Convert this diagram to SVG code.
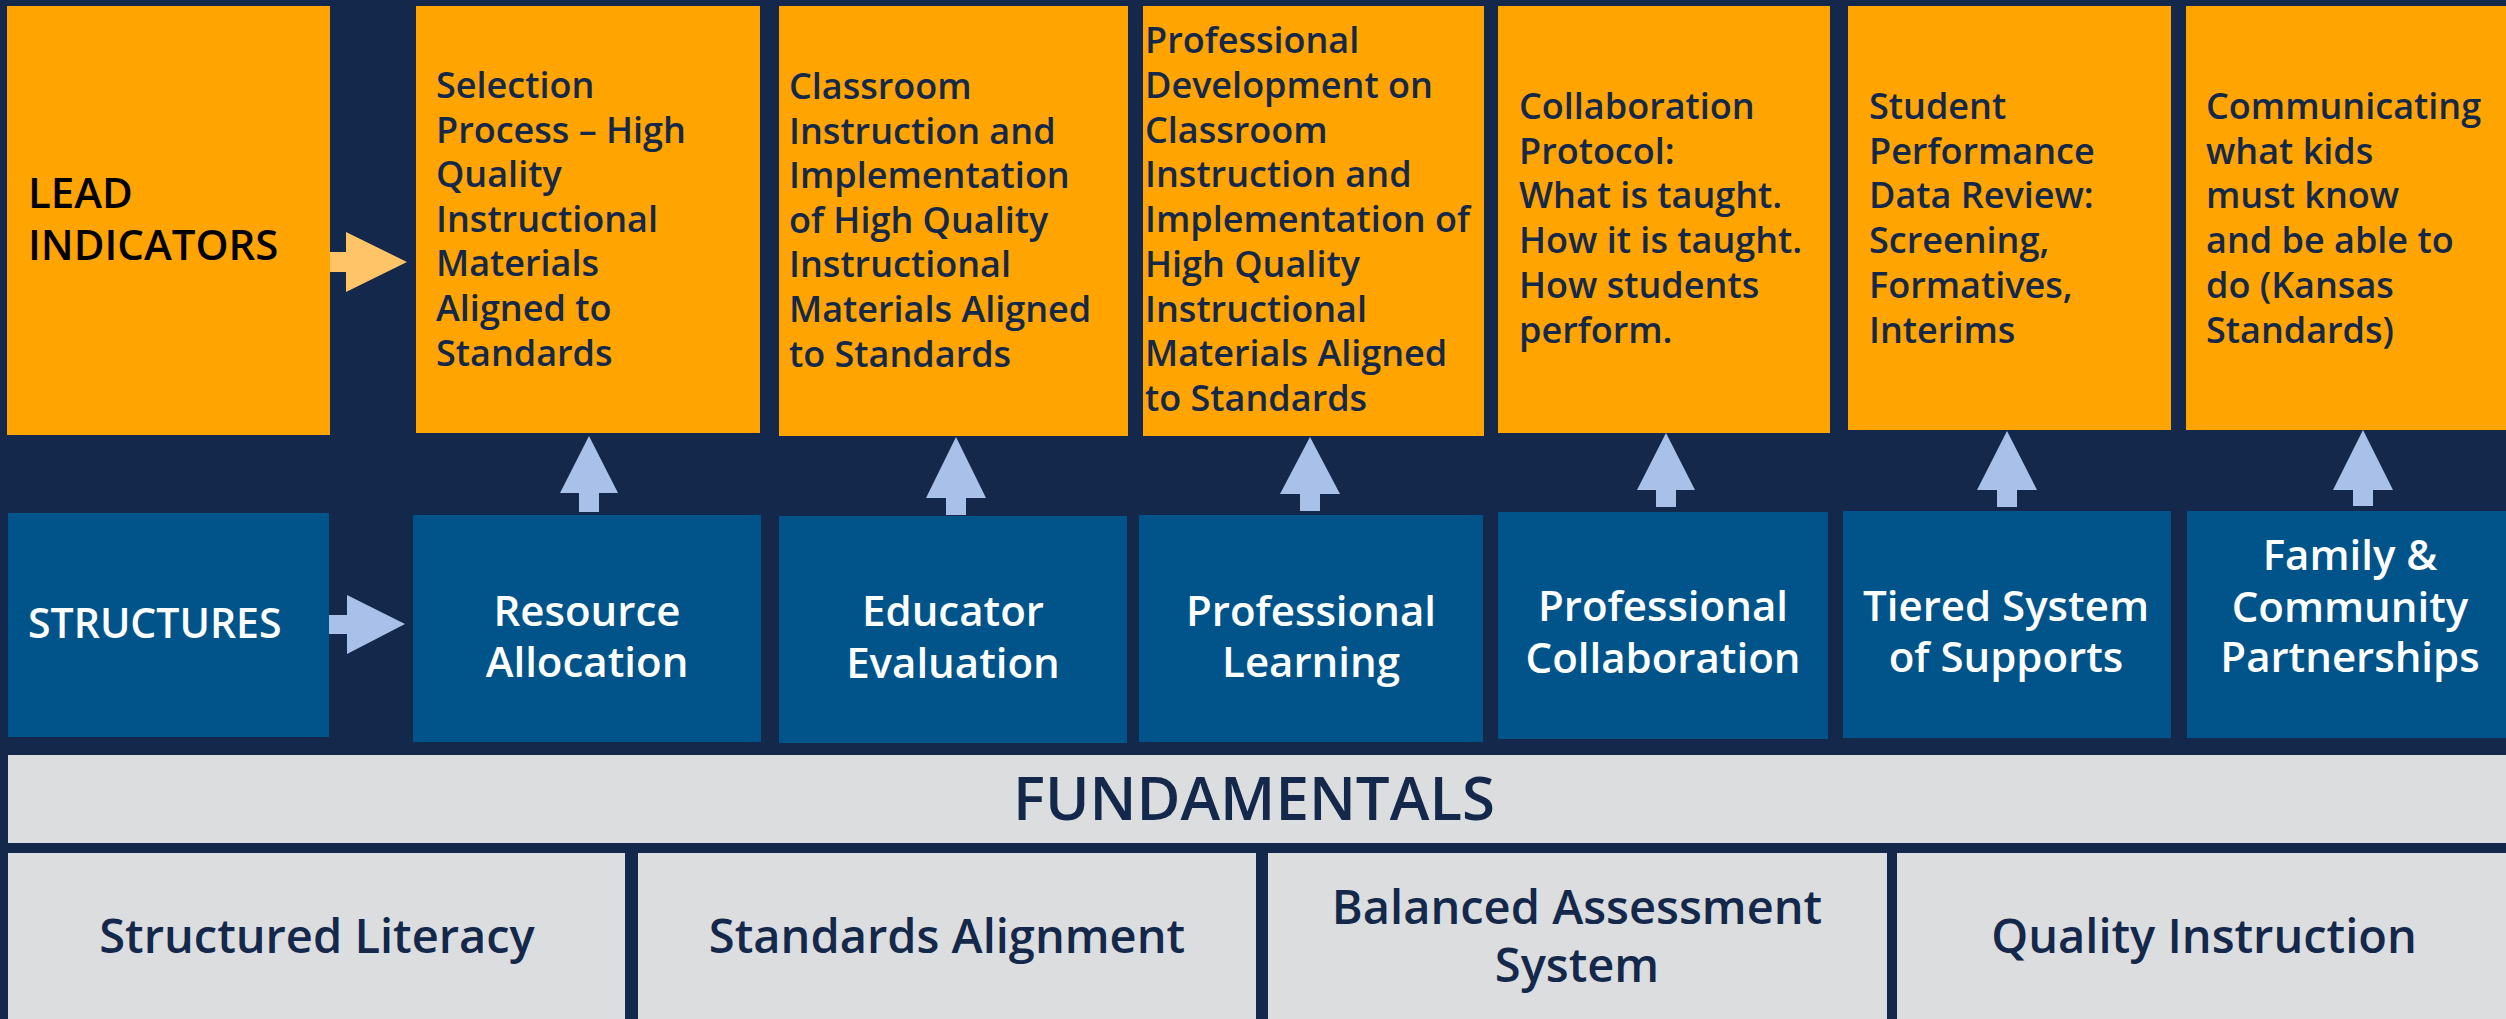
<svg xmlns="http://www.w3.org/2000/svg" width="2506" height="1019" viewBox="0 0 2506 1019">
  <style>
    text { font-family: "Open Sans", "Noto Sans", "Liberation Sans", sans-serif; font-weight: 600; }
    .lead { fill: #FFA400; }
    .struct { fill: #01548A; }
    .fund { fill: #DCDDDF; }
    .t-lead { font-size: 36px; fill: #14284B; }
    .t-lead-title { font-size: 42px; fill: #000000; }
    .t-struct { font-size: 42px; fill: #FFFFFF; text-anchor: middle; }
    .t-struct-title { font-size: 41px; fill: #FFFFFF; }
    .t-fund-title { font-size: 60px; fill: #14284B; text-anchor: middle; }
    .t-fund { font-size: 47px; fill: #14284B; text-anchor: middle; }
    .up { fill: #A9C1E9; }
    .right-orange { fill: #FFC467; }
    .right-blue { fill: #A9C1E9; }
  </style>

  <!-- background -->
  <rect x="0" y="0" width="2506" height="1019" fill="#14284C"/>

  <!-- lead indicators row -->
  <g id="lead-indicators">
    <rect class="lead" x="7" y="6" width="323" height="429"/>
    <text class="t-lead-title" x="28" y="208">LEAD<tspan x="28" y="260">INDICATORS</tspan></text>
  </g>
  <g id="lead-selection">
    <rect class="lead" x="416" y="6" width="344" height="427"/>
    <text class="t-lead" x="436" y="98">Selection<tspan x="436" dy="44.6">Process – High</tspan><tspan x="436" dy="44.6">Quality</tspan><tspan x="436" dy="44.6">Instructional</tspan><tspan x="436" dy="44.6">Materials</tspan><tspan x="436" dy="44.6">Aligned to</tspan><tspan x="436" dy="44.6">Standards</tspan></text>
  </g>
  <g id="lead-classroom">
    <rect class="lead" x="779" y="6" width="349" height="430"/>
    <text class="t-lead" x="789" y="99">Classroom<tspan x="789" dy="44.6">Instruction and</tspan><tspan x="789" dy="44.6">Implementation</tspan><tspan x="789" dy="44.6">of High Quality</tspan><tspan x="789" dy="44.6">Instructional</tspan><tspan x="789" dy="44.6">Materials Aligned</tspan><tspan x="789" dy="44.6">to Standards</tspan></text>
  </g>
  <g id="lead-professional-development">
    <rect class="lead" x="1143" y="6" width="341" height="430"/>
    <text class="t-lead" x="1145" y="53">Professional<tspan x="1145" dy="44.75">Development on</tspan><tspan x="1145" dy="44.75">Classroom</tspan><tspan x="1145" dy="44.75">Instruction and</tspan><tspan x="1145" dy="44.75">Implementation of</tspan><tspan x="1145" dy="44.75">High Quality</tspan><tspan x="1145" dy="44.75">Instructional</tspan><tspan x="1145" dy="44.75">Materials Aligned</tspan><tspan x="1145" dy="44.75">to Standards</tspan></text>
  </g>
  <g id="lead-collaboration-protocol">
    <rect class="lead" x="1498" y="6" width="332" height="427"/>
    <text class="t-lead" x="1519" y="119">Collaboration<tspan x="1519" dy="44.7">Protocol:</tspan><tspan x="1519" dy="44.7">What is taught.</tspan><tspan x="1519" dy="44.7">How it is taught.</tspan><tspan x="1519" dy="44.7">How students</tspan><tspan x="1519" dy="44.7">perform.</tspan></text>
  </g>
  <g id="lead-data-review">
    <rect class="lead" x="1848" y="6" width="323" height="424"/>
    <text class="t-lead" x="1869" y="119">Student<tspan x="1869" dy="44.7">Performance</tspan><tspan x="1869" dy="44.7">Data Review:</tspan><tspan x="1869" dy="44.7">Screening,</tspan><tspan x="1869" dy="44.7">Formatives,</tspan><tspan x="1869" dy="44.7">Interims</tspan></text>
  </g>
  <g id="lead-communicating">
    <rect class="lead" x="2186" y="6" width="320" height="424"/>
    <text class="t-lead" x="2206" y="119">Communicating<tspan x="2206" dy="44.7">what kids</tspan><tspan x="2206" dy="44.7">must know</tspan><tspan x="2206" dy="44.7">and be able to</tspan><tspan x="2206" dy="44.7">do (Kansas</tspan><tspan x="2206" dy="44.7">Standards)</tspan></text>
  </g>

  <!-- structures row -->
  <g id="structures">
    <rect class="struct" x="8" y="513" width="321" height="224"/>
    <text class="t-struct-title" x="28" y="638">STRUCTURES</text>
  </g>
  <g id="structure-resource-allocation">
    <rect class="struct" x="413" y="515" width="348" height="227"/>
    <text class="t-struct" x="587" y="626">Resource<tspan x="587" dy="51">Allocation</tspan></text>
  </g>
  <g id="structure-educator-evaluation">
    <rect class="struct" x="779" y="516" width="348" height="227"/>
    <text class="t-struct" x="953" y="626">Educator<tspan x="953" dy="52">Evaluation</tspan></text>
  </g>
  <g id="structure-professional-learning">
    <rect class="struct" x="1139" y="515" width="344" height="227"/>
    <text class="t-struct" x="1311" y="626">Professional<tspan x="1311" dy="51">Learning</tspan></text>
  </g>
  <g id="structure-professional-collaboration">
    <rect class="struct" x="1498" y="512" width="330" height="227"/>
    <text class="t-struct" x="1663" y="621">Professional<tspan x="1663" dy="52">Collaboration</tspan></text>
  </g>
  <g id="structure-tiered-supports">
    <rect class="struct" x="1843" y="511" width="328" height="227"/>
    <text class="t-struct" x="2006" y="621">Tiered System<tspan x="2006" dy="51">of Supports</tspan></text>
  </g>
  <g id="structure-family-community">
    <rect class="struct" x="2187" y="511" width="319" height="227"/>
    <text class="t-struct" x="2350" y="570">Family &amp;<tspan x="2350" dy="52">Community</tspan><tspan x="2350" dy="50">Partnerships</tspan></text>
  </g>

  <!-- fundamentals -->
  <g id="fundamentals">
    <rect class="fund" x="8" y="755" width="2498" height="88"/>
    <text class="t-fund-title" x="1254" y="820">FUNDAMENTALS</text>
  </g>
  <g id="fundamental-structured-literacy">
    <rect class="fund" x="8" y="853" width="617" height="166"/>
    <text class="t-fund" x="317" y="953">Structured Literacy</text>
  </g>
  <g id="fundamental-standards-alignment">
    <rect class="fund" x="638" y="853" width="618" height="166"/>
    <text class="t-fund" x="947" y="953">Standards Alignment</text>
  </g>
  <g id="fundamental-balanced-assessment">
    <rect class="fund" x="1268" y="853" width="619" height="166"/>
    <text class="t-fund" x="1577" y="924">Balanced Assessment<tspan x="1577" dy="58">System</tspan></text>
  </g>
  <g id="fundamental-quality-instruction">
    <rect class="fund" x="1897" y="853" width="609" height="166"/>
    <text class="t-fund" x="2204" y="953">Quality Instruction</text>
  </g>

  <!-- connectors: block arrows -->
  <g id="connectors">
    <polygon class="right-orange" points="330,252 346,252 346,232 407,262 346,292 346,272 330,272"/>
    <polygon class="right-blue" points="329,615 347,615 347,595 405,624 347,654 347,634 329,634"/>
    <polygon class="up" points="589,436 618,493 599,493 599,512 579,512 579,493 560,493"/>
    <polygon class="up" points="956,437 986,498 966,498 966,515 946,515 946,498 926,498"/>
    <polygon class="up" points="1310,437 1340,494 1320,494 1320,511 1300,511 1300,494 1280,494"/>
    <polygon class="up" points="1666,433 1695,490 1676,490 1676,507 1656,507 1656,490 1637,490"/>
    <polygon class="up" points="2007,431 2037,490 2017,490 2017,507 1997,507 1997,490 1977,490"/>
    <polygon class="up" points="2363,430 2393,490 2373,490 2373,506 2353,506 2353,490 2333,490"/>
  </g>
</svg>
